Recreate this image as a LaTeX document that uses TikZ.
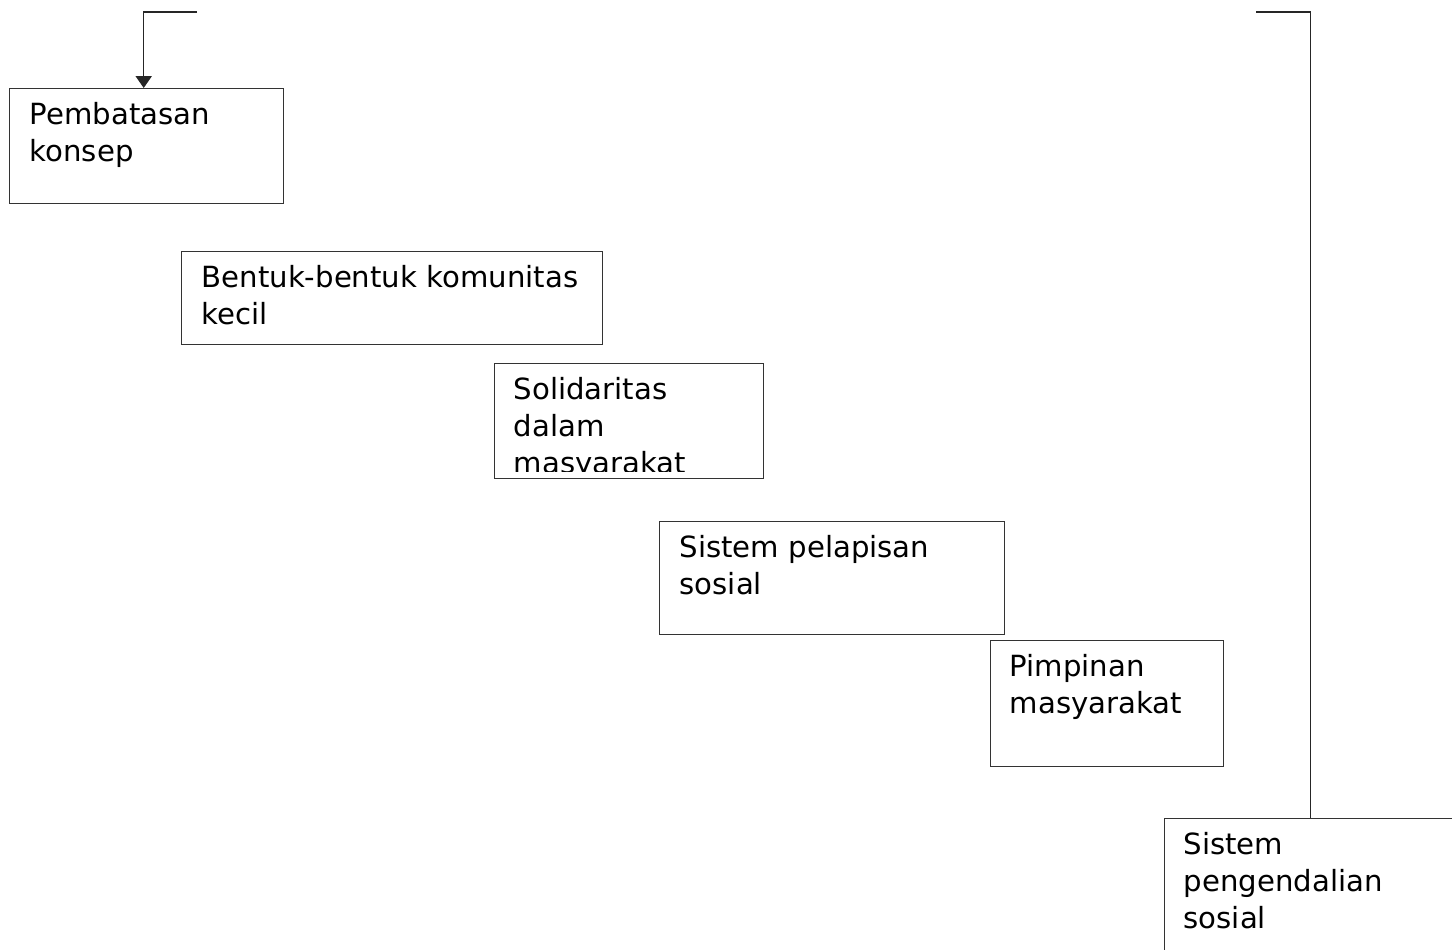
\documentclass[tikz,border=0pt]{standalone}
\usepackage{fontspec}
\setmainfont{DejaVu Sans}
\usetikzlibrary{arrows.meta,positioning,calc}

\begin{document}
\begin{tikzpicture}[
  box/.style={draw=black!80, line width=0.4pt, anchor=north west, inner sep=0pt},
  txt/.style={anchor=north west, inner sep=0pt, align=left, font=\fontsize{8.3}{10.5}\selectfont},
  conn/.style={draw=black!85, line width=0.4pt},
  >={Triangle[width=4.6pt, length=3.4pt]},
]
\useasboundingbox (0,0) rectangle (14.52,-9.49);
\clip (0,0) rectangle (14.52,-9.49);

\node[box, minimum width=2.74cm, minimum height=1.15cm] (konsep) at (0.09,-0.88) {};
\node[box, minimum width=4.21cm, minimum height=0.93cm] (komunitas) at (1.81,-2.51) {};
\node[box, minimum width=2.69cm, minimum height=1.15cm] (solidaritas) at (4.94,-3.63) {};
\node[box, minimum width=3.45cm, minimum height=1.13cm] (pelapisan) at (6.59,-5.21) {};
\node[box, minimum width=2.33cm, minimum height=1.26cm] (pimpinan) at (9.90,-6.40) {};
\node[box, minimum width=2.92cm, minimum height=1.40cm] (pengendalian) at (11.64,-8.18) {};

\node[txt] (t-konsep) at ([shift={(0.20,-0.14)}]konsep.north west) {Pembatasan\\konsep};
\node[txt] (t-komunitas) at ([shift={(0.20,-0.14)}]komunitas.north west) {Bentuk-bentuk komunitas\\kecil};
\begin{scope}
  \clip (solidaritas.north west) rectangle ([yshift=0.08cm]solidaritas.south east);
  \node[txt] (t-solidaritas) at ([shift={(0.19,-0.14)}]solidaritas.north west) {Solidaritas\\dalam\\masyarakat};
\end{scope}
\node[txt] (t-pelapisan) at ([shift={(0.20,-0.14)}]pelapisan.north west) {Sistem pelapisan\\sosial};
\node[txt] (t-pimpinan) at ([shift={(0.19,-0.14)}]pimpinan.north west) {Pimpinan\\masyarakat};
\node[txt] (t-pengendalian) at ([shift={(0.19,-0.14)}]pengendalian.north west) {Sistem\\pengendalian\\sosial};

% connectors along the top
\coordinate (lstart) at (1.97,-0.12);
\coordinate (rstart) at (12.56,-0.12);
\draw[conn, ->] (lstart) -| ([xshift=-0.03cm]konsep.north);
\draw[conn] (rstart) -| (pengendalian.north);
\end{tikzpicture}
\end{document}
